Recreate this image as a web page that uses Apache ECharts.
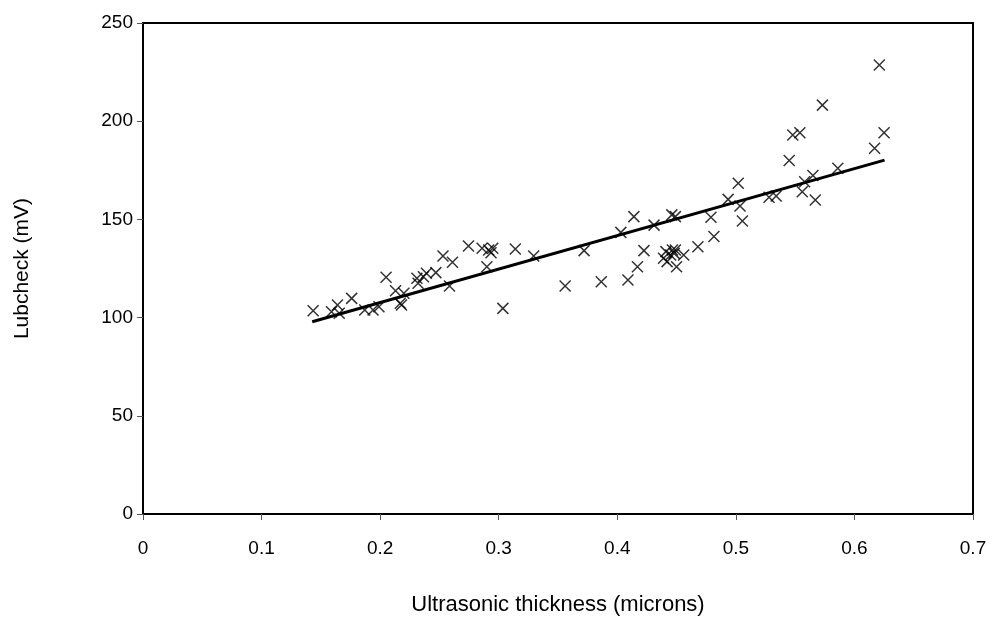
<!DOCTYPE html>
<html>
<head>
<meta charset="utf-8">
<script src="https://cdn.jsdelivr.net/npm/echarts@6/dist/echarts.min.js"></script>
<style>html,body{margin:0;padding:0;background:#fff}#c{width:992px;height:624px}</style>
</head>
<body>
<div id="c"></div>
<script>
const thickness = [0.1435,0.159,0.164,0.1655,0.176,0.187,0.194,0.199,0.205,0.213,0.217,0.218,0.220,0.231,0.232,0.2365,0.239,0.247,0.253,0.261,0.2585,0.2745,0.286,0.2915,0.2935,0.295,0.290,0.3035,0.314,0.3295,0.356,0.372,0.3865,0.403,0.409,0.414,0.417,0.4225,0.431,0.441,0.439,0.442,0.4465,0.448,0.449,0.445,0.450,0.456,0.446,0.449,0.468,0.479,0.4815,0.4935,0.502,0.5035,0.5055,0.528,0.534,0.545,0.548,0.554,0.556,0.558,0.565,0.567,0.573,0.586,0.617,0.621,0.625];
const lubcheck = [103.5,103.0,106.4,102.2,109.8,103.9,103.9,105.5,120.5,113.7,107.3,106.4,112.4,120.0,117.5,120.8,122.6,122.9,131.4,128.2,116.1,136.5,135.3,134.4,133.0,135.3,125.9,104.7,134.9,131.4,116.1,134.1,118.3,143.4,119.1,151.4,125.9,134.1,147.1,133.6,130.2,128.5,134.4,132.7,134.4,131.9,125.9,131.9,152.3,151.4,136.1,151.1,141.3,160.2,168.4,156.8,149.2,161.3,161.9,180.0,193.0,194.1,164.1,169.2,172.4,159.9,208.2,176.0,186.2,228.6,194.1];
const trendX = [0.1427, 0.6254];
const trendY = [97.9, 180.2];
const xTicks = [0,0.1,0.2,0.3,0.4,0.5,0.6,0.7];
const yTicks = [0,50,100,150,200,250];

const pts = thickness.map((x,i)=>[x,lubcheck[i]]);
const trend = trendX.map((x,i)=>[x,trendY[i]]);
const font = 'Liberation Sans, Arial, sans-serif';

const chart = echarts.init(document.getElementById('c'), null, {renderer:'canvas'});
chart.setOption({
  animation:false,
  backgroundColor:'#fff',
  grid:{left:143,right:19,top:23,bottom:110,show:true,borderColor:'#000',borderWidth:2,backgroundColor:'transparent'},
  xAxis:{
    type:'value',min:0,max:0.7,interval:0.1,
    name:'Ultrasonic thickness (microns)',nameLocation:'middle',nameGap:80,
    nameTextStyle:{fontFamily:font,fontSize:22,color:'#000'},
    axisLine:{show:true,onZero:false,lineStyle:{color:'#000',width:2}},
    axisTick:{show:true,length:6,lineStyle:{color:'#555',width:1}},
    axisLabel:{fontFamily:font,fontSize:19,color:'#000',margin:25,formatter:v=>String(Math.round(v*10)/10)},
    splitLine:{show:false}
  },
  yAxis:{
    type:'value',min:0,max:250,interval:50,
    name:'Lubcheck (mV)',nameLocation:'middle',nameGap:110,nameRotate:90,
    nameTextStyle:{fontFamily:font,fontSize:21,color:'#000'},
    axisLine:{show:true,onZero:false,lineStyle:{color:'#000',width:2}},
    axisTick:{show:true,length:6,lineStyle:{color:'#555',width:1}},
    axisLabel:{fontFamily:font,fontSize:19,color:'#000',margin:10},
    splitLine:{show:false}
  },
  series:[
    {type:'scatter',data:pts,symbol:'path://M0,0L10,10M10,0L0,10',symbolSize:11,
     itemStyle:{color:'rgba(0,0,0,0)',borderColor:'#000',borderWidth:1.5},z:3},
    {type:'line',data:trend,symbol:'none',lineStyle:{color:'#000',width:3},z:2}
  ]
});
</script>
</body>
</html>
